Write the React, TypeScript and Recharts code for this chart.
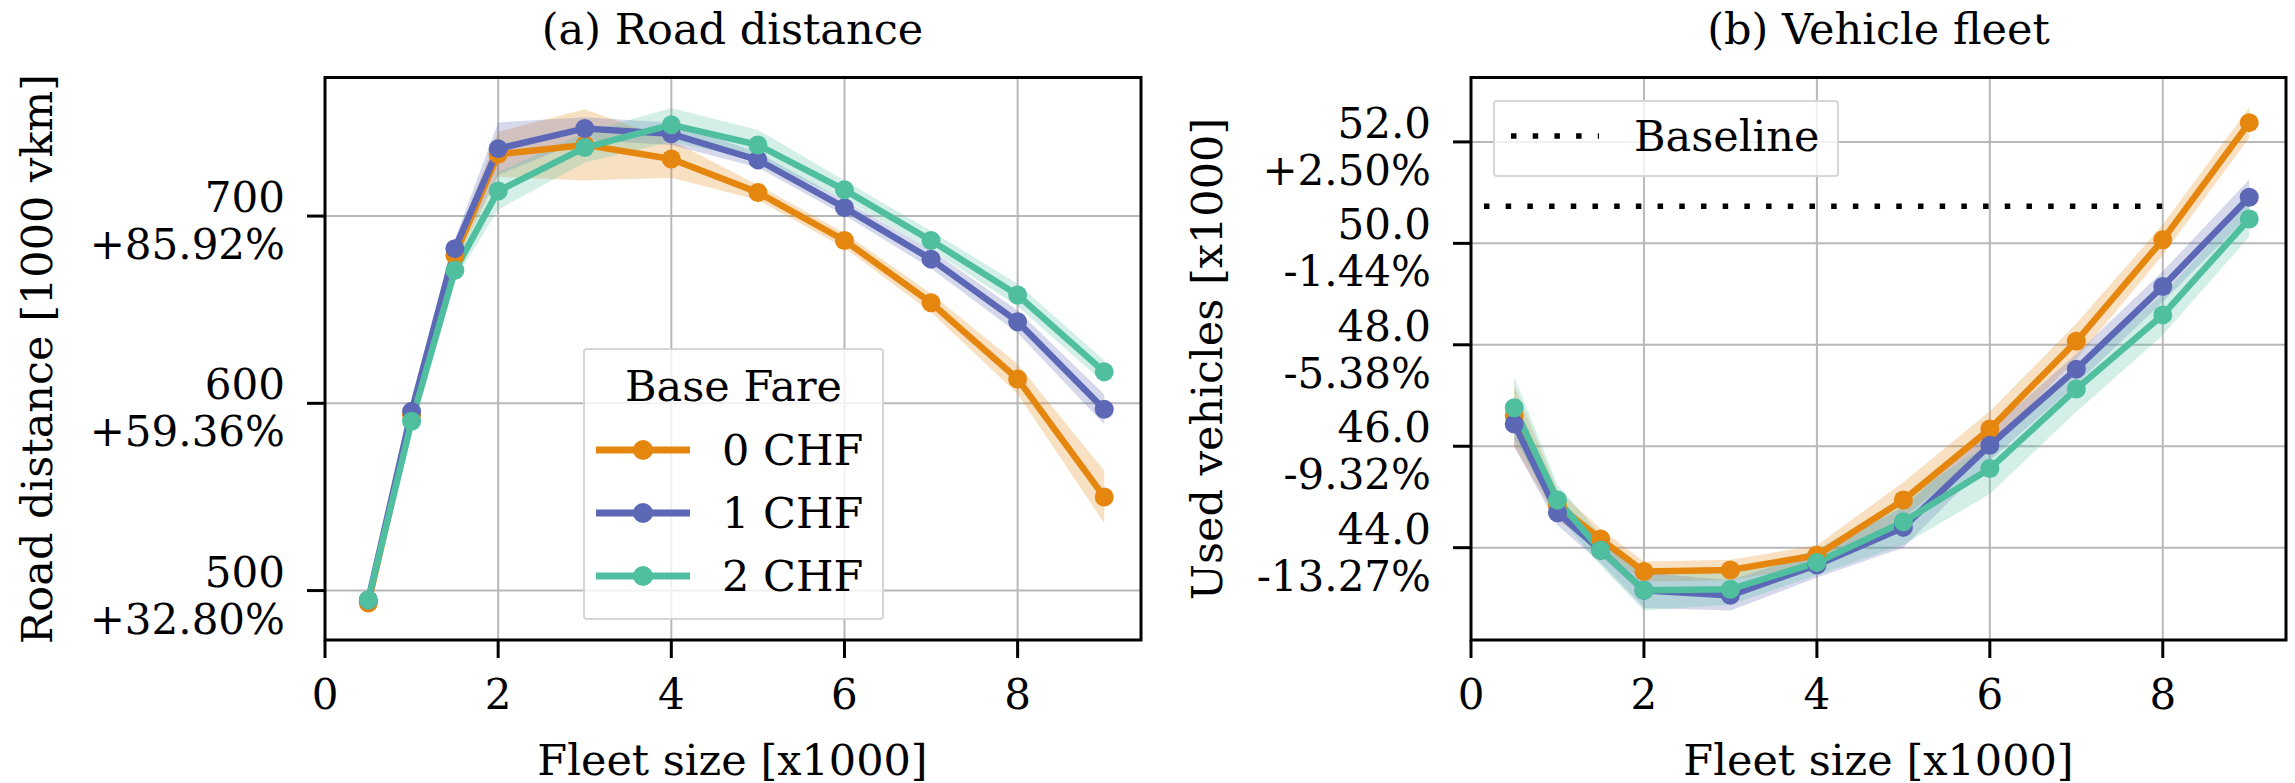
import React from 'react'
import {
  ComposedChart,
  Line,
  Area,
  XAxis,
  YAxis,
  CartesianGrid,
  ReferenceArea,
  ReferenceLine,
} from 'recharts'

const fleetSizes = [0.5, 1, 1.5, 2, 3, 4, 5, 6, 7, 8, 9]
const fareLabels = ['0 CHF', '1 CHF', '2 CHF']
const fareColors = ['#e5870f', '#5c68b5', '#4fbf9f']

// (a) road distance [1000 vkm]
const distance0 = [493.3, 593.6, 679, 733, 738, 730.5, 712.6, 687, 653.7, 613, 550]
const distance1 = [495, 595.7, 682.6, 736, 746.8, 743.9, 730, 704.5, 677, 643.6, 596.8]
const distance2 = [495, 590.4, 671, 713.4, 736.6, 748.7, 738, 714, 687, 657.8, 616.8]
const distanceSpread0 = [2, 3, 5, 12, 19, 10, 4, 4, 5, 8, 14]
const distanceSpread1 = [2, 3, 5, 14, 6, 6, 4, 4, 5, 6, 8]
const distanceSpread2 = [2, 3, 5, 10, 8, 9, 8, 5, 5, 6, 6]
const distanceTicks = [500, 600, 700]
const distancePercent = ['+32.80%', '+59.36%', '+85.92%']

// (b) used vehicles [x1000]
const vehicles0 = [46.6, 44.84, 44.17, 43.53, 43.56, 43.85, 44.94, 46.34, 48.07, 50.07, 52.38]
const vehicles1 = [46.44, 44.69, 43.95, 43.16, 43.06, 43.66, 44.4, 46.02, 47.52, 49.15, 50.91]
const vehicles2 = [46.76, 44.94, 43.95, 43.16, 43.18, 43.71, 44.51, 45.56, 47.13, 48.59, 50.48]
const vehiclesSpread0 = [0.6, 0.3, 0.2, 0.2, 0.2, 0.2, 0.35, 0.35, 0.35, 0.3, 0.3]
const vehiclesSpread1 = [0.45, 0.25, 0.25, 0.35, 0.3, 0.25, 0.4, 0.3, 0.3, 0.3, 0.35]
const vehiclesSpread2 = [0.6, 0.3, 0.3, 0.4, 0.3, 0.25, 0.45, 0.5, 0.45, 0.4, 0.35]
const vehicleTicks = [44, 46, 48, 50, 52]
const vehiclePercent = ['-13.27%', '-9.32%', '-5.38%', '-1.44%', '+2.50%']
const baselineVehicles = 50.73
const baselineRange = [0.15, 8]

const xTicks = [0, 2, 4, 6, 8]
const FONT = '"DejaVu Serif", serif'
const TICK_SIZE = 42
const LABEL_SIZE = 43

function buildRows(series: number[][], spreads: number[][]) {
  return fleetSizes.map((x, i) => {
    const row: any = { x }
    series.forEach((s, k) => {
      row['v' + k] = s[i]
      row['b' + k] = [s[i] - spreads[k][i], s[i] + spreads[k][i]]
    })
    return row
  })
}

const distanceRows = buildRows(
  [distance0, distance1, distance2],
  [distanceSpread0, distanceSpread1, distanceSpread2]
)
const vehicleRows = buildRows(
  [vehicles0, vehicles1, vehicles2],
  [vehiclesSpread0, vehiclesSpread1, vehiclesSpread2]
)

function makeYTick(ticks: number[], percents: string[], digits: number) {
  return (props: any) => {
    const { x, y, payload } = props
    const i = ticks.indexOf(payload.value)
    return (
      <text x={x} y={y} textAnchor="end" fontFamily={FONT} fontSize={TICK_SIZE} fill="#000">
        <tspan x={x} y={y - 4}>{payload.value.toFixed(digits)}</tspan>
        <tspan x={x} y={y + 43}>{percents[i]}</tspan>
      </text>
    )
  }
}

const XTick = (props: any) => {
  const { x, y, payload } = props
  return (
    <text x={x} y={y} dy={45} textAnchor="middle" fontFamily={FONT} fontSize={TICK_SIZE} fill="#000">
      {payload.value}
    </text>
  )
}

interface PanelProps {
  rows: any[]
  domain: [number, number]
  ticks: number[]
  percents: string[]
  digits: number
  yAxisWidth: number
  width: number
  children?: React.ReactNode
}

function Panel({ rows, domain, ticks, percents, digits, yAxisWidth, width, children }: PanelProps) {
  const parts: React.ReactNode[] = []
  fareColors.forEach((c, k) => {
    parts.push(
      <Area
        key={'a' + k}
        dataKey={'b' + k}
        type="linear"
        stroke="none"
        fill={c}
        fillOpacity={0.25}
        isAnimationActive={false}
        activeDot={false}
      />
    )
    parts.push(
      <Line
        key={'l' + k}
        dataKey={'v' + k}
        type="linear"
        stroke={c}
        strokeWidth={6.5}
        dot={{ r: 9.5, fill: c, stroke: c, strokeWidth: 0 }}
        activeDot={false}
        isAnimationActive={false}
      />
    )
  })
  return (
    <ComposedChart
      width={width}
      height={783}
      data={rows}
      margin={{ top: 77.5, right: 9, bottom: 0, left: 0 }}
    >
      <CartesianGrid stroke="#b8b8b8" strokeWidth={2} />
      <XAxis
        dataKey="x"
        type="number"
        domain={[0, 9.425]}
        ticks={xTicks}
        height={143}
        tickSize={18}
        tickMargin={6}
        tick={<XTick />}
        axisLine={false}
        tickLine={{ stroke: '#000', strokeWidth: 3 }}
        allowDataOverflow
      />
      <YAxis
        type="number"
        domain={domain}
        ticks={ticks}
        width={yAxisWidth}
        tickSize={18}
        tickMargin={22}
        tick={makeYTick(ticks, percents, digits)}
        axisLine={false}
        tickLine={{ stroke: '#000', strokeWidth: 3 }}
        allowDataOverflow
      />
      {parts}
      {children}
      <ReferenceArea
        x1={0}
        x2={9.425}
        y1={domain[0]}
        y2={domain[1]}
        fill="none"
        stroke="#000"
        strokeWidth={3}
        ifOverflow="visible"
      />
    </ComposedChart>
  )
}

const text40: React.CSSProperties = {
  position: 'absolute',
  fontFamily: FONT,
  fontSize: LABEL_SIZE,
  lineHeight: '44px',
  color: '#000',
  whiteSpace: 'nowrap',
}

function Handle({ color, dotted }: { color: string; dotted?: boolean }) {
  return (
    <svg width={96} height={22} style={{ display: 'block' }}>
      {dotted ? (
        <line x1={0} y1={11} x2={88} y2={11} stroke="#000" strokeWidth={5.5} strokeDasharray="5.5 16.2" />
      ) : (
        <>
          <line x1={0} y1={11} x2={94} y2={11} stroke={color} strokeWidth={7} />
          <circle cx={47} cy={11} r={10} fill={color} />
        </>
      )}
    </svg>
  )
}

export default function App() {
  return (
    <div
      style={{
        position: 'absolute',
        left: 0,
        top: 0,
        width: 2295,
        height: 783,
        background: '#fff',
        fontFamily: FONT,
      }}
    >
      <div style={{ position: 'absolute', left: 0, top: 0 }}>
        <Panel
          rows={distanceRows}
          domain={[473.6, 774]}
          ticks={distanceTicks}
          percents={distancePercent}
          digits={0}
          yAxisWidth={325}
          width={1150}
        />
      </div>
      <div style={{ position: 'absolute', left: 1150, top: 0 }}>
        <Panel
          rows={vehicleRows}
          domain={[42.18, 53.27]}
          ticks={vehicleTicks}
          percents={vehiclePercent}
          digits={1}
          yAxisWidth={321}
          width={1145}
        >
          <ReferenceLine
            segment={[
              { x: baselineRange[0], y: baselineVehicles },
              { x: baselineRange[1], y: baselineVehicles },
            ]}
            stroke="#000"
            strokeWidth={5.5}
            strokeDasharray="5.5 16.2"
          />
        </Panel>
      </div>

      {/* titles */}
      <div style={{ ...text40, left: 732.5, top: 7, transform: 'translateX(-50%)' }}>(a) Road distance</div>
      <div style={{ ...text40, left: 1878.5, top: 7, transform: 'translateX(-50%)' }}>(b) Vehicle fleet</div>

      {/* axis labels */}
      <div style={{ ...text40, left: 732.5, top: 738, transform: 'translateX(-50%)' }}>Fleet size [x1000]</div>
      <div style={{ ...text40, left: 1878.5, top: 738, transform: 'translateX(-50%)' }}>Fleet size [x1000]</div>
      <div style={{ ...text40, left: 37, top: 359, transform: 'translate(-50%, -50%) rotate(-90deg)' }}>
        Road distance [1000 vkm]
      </div>
      <div style={{ ...text40, left: 1207, top: 359, transform: 'translate(-50%, -50%) rotate(-90deg)' }}>
        Used vehicles [x1000]
      </div>

      {/* legend (a) */}
      <div
        style={{
          position: 'absolute',
          left: 583,
          top: 347.5,
          width: 301,
          height: 272,
          boxSizing: 'border-box',
          border: '2px solid #d6d6d6',
          borderRadius: 4,
          background: 'rgba(255,255,255,0.8)',
        }}
      >
        <div style={{ ...text40, left: 0, width: 297, textAlign: 'center', top: 14 }}>Base Fare</div>
        {fareLabels.map((label, k) => (
          <div key={label}>
            <div style={{ position: 'absolute', left: 11, top: 89 + k * 63 }}>
              <Handle color={fareColors[k]} />
            </div>
            <div style={{ ...text40, left: 137, top: 78 + k * 63 }}>{label}</div>
          </div>
        ))}
      </div>

      {/* legend (b) */}
      <div
        style={{
          position: 'absolute',
          left: 1493,
          top: 100,
          width: 346,
          height: 77,
          boxSizing: 'border-box',
          border: '2px solid #d6d6d6',
          borderRadius: 4,
          background: 'rgba(255,255,255,0.8)',
        }}
      >
        <div style={{ position: 'absolute', left: 16, top: 23 }}>
          <Handle color="#000" dotted />
        </div>
        <div style={{ ...text40, left: 139, top: 12 }}>Baseline</div>
      </div>
    </div>
  )
}
